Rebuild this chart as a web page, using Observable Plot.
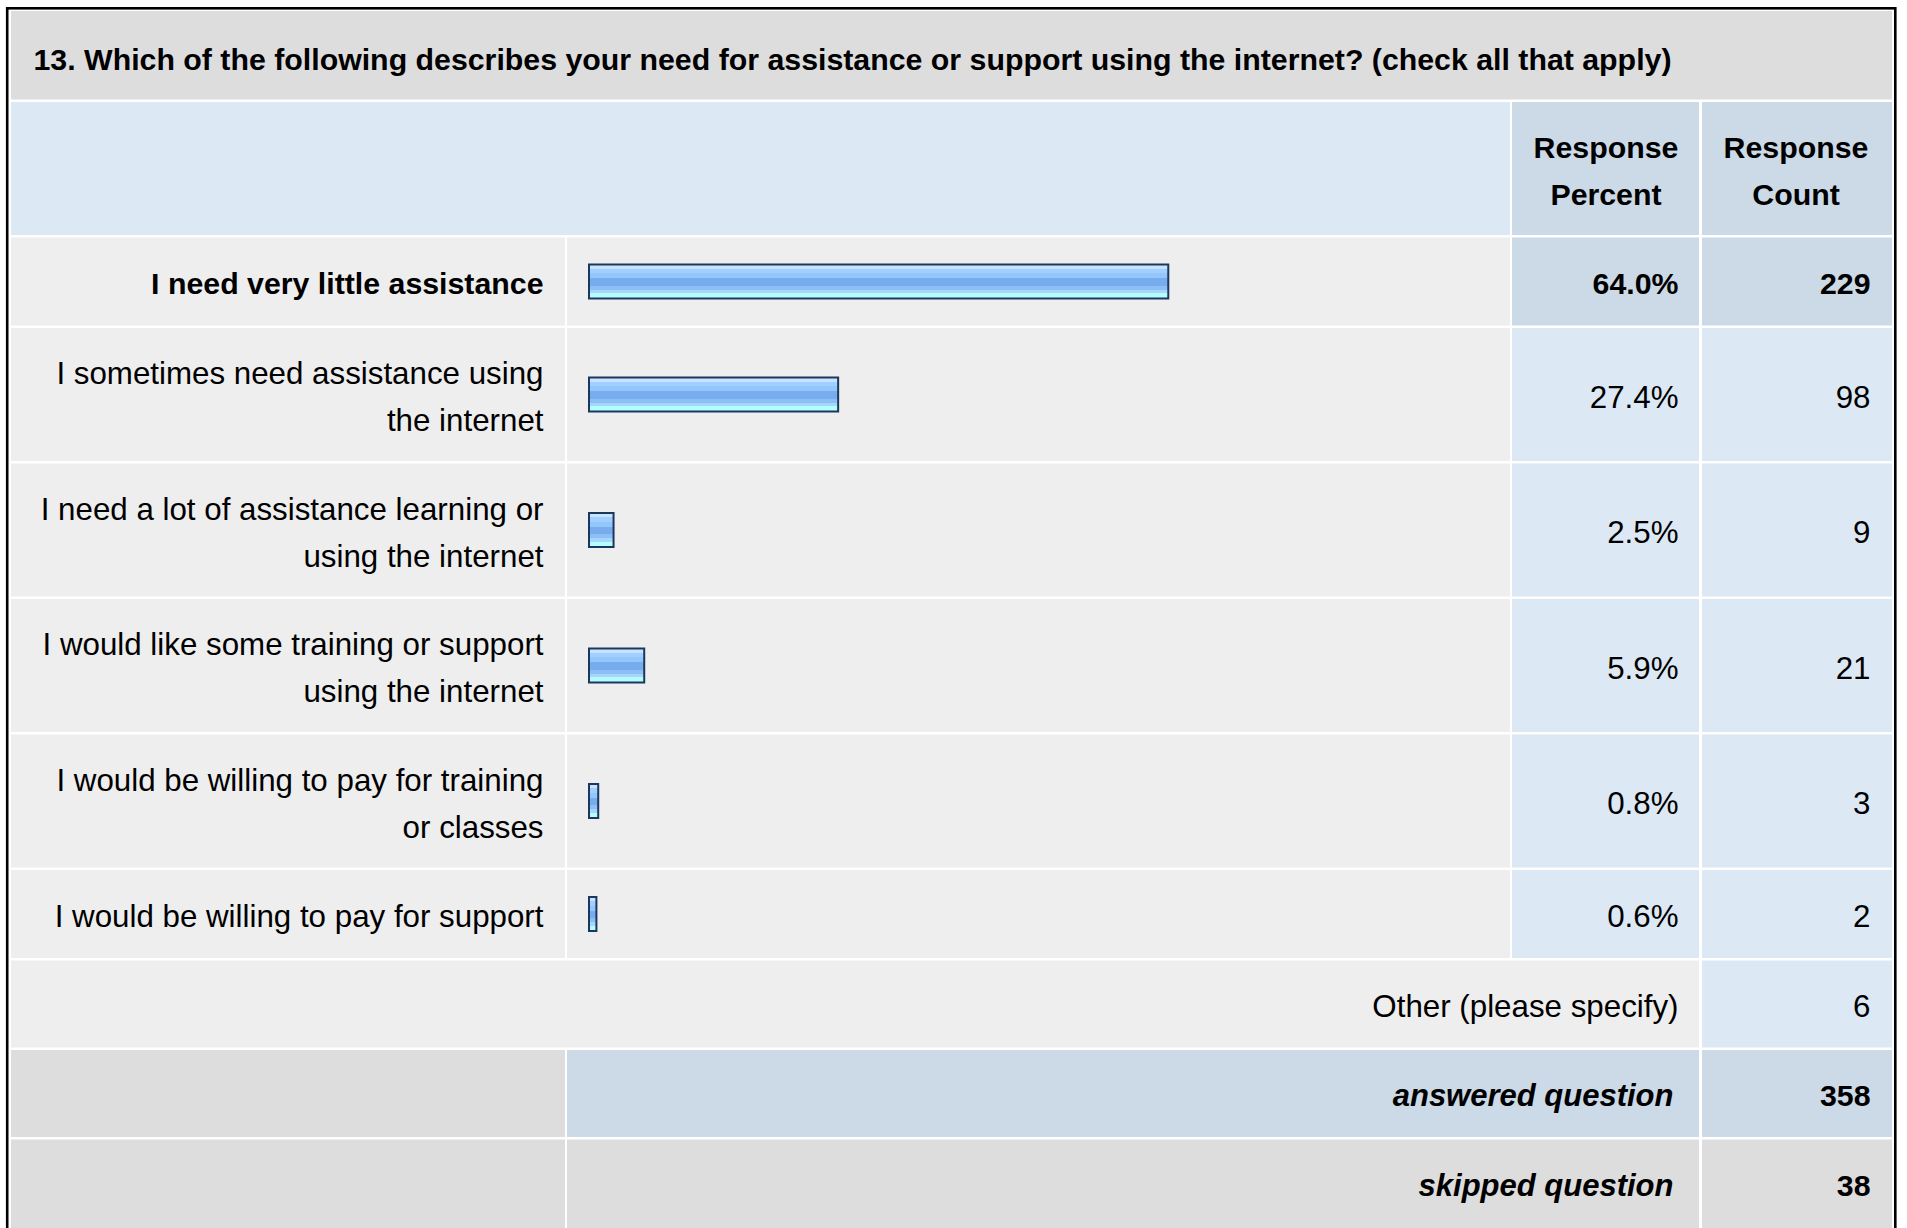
<!DOCTYPE html>
<html>
<head>
<meta charset="utf-8">
<script src="https://cdn.jsdelivr.net/npm/d3@7"></script>
<script src="https://cdn.jsdelivr.net/npm/@observablehq/plot@0.6"></script>
<style>
  html, body { margin: 0; padding: 0; background: #ffffff; }
  #chart svg { display: block; }
</style>
</head>
<body>
<div id="chart"></div>
<script>
// ---------------- data ----------------
const title = "13. Which of the following describes your need for assistance or support using the internet? (check all that apply)";
const headerLabels = ["Response\nPercent", "Response\nCount"];
const answers = [
  "I need very little assistance",
  "I sometimes need assistance using\nthe internet",
  "I need a lot of assistance learning or\nusing the internet",
  "I would like some training or support\nusing the internet",
  "I would be willing to pay for training\nor classes",
  "I would be willing to pay for support"
];
const percents = [64.0, 27.4, 2.5, 5.9, 0.8, 0.6];
const counts = [229, 98, 9, 21, 3, 2];
const otherLabel = "Other (please specify)";
const otherCount = 6;
const summaryLabels = ["answered question", "skipped question"];
const summaryCounts = [358, 38];

// ---------------- layout & style ----------------
const W = 1907, H = 1228;
const FONT = "'Liberation Sans', Arial, Helvetica, sans-serif";
const FS_REG = 31.3, FS_BOLD = 30.3, FS_TITLE = 30.3, FS_SUMMARY = 31;
const COL = {left: 11, labelEnd: 565, barStart: 567, barEnd: 1510, pctStart: 1512, pctEnd: 1699, cntStart: 1702, right: 1892};
const ANCHOR = {label: 543, pct: 1678, cnt: 1870, summary: 1673, title: 33};
const C = {title: "#dddddd", head: "#dde8f5", dark: "#ccd9e6", row: "#eeeeee", stat: "#dde8f5"};
const GAP = 2.5, LINE = 47, ROW1 = 88, EXTRA = 45, CENTER_ADJ = 2.5;

let yc = 11;
const titleBand = {y1: yc, y2: yc + 88.5}; yc = titleBand.y2 + GAP;
const headBand = {y1: yc, y2: yc + 133, c: yc + 66.5}; yc = headBand.y2 + GAP;
const maxPct = d3.max(percents);
const rows = answers.map((label, i) => {
  const n = label.split("\n").length;
  const h = ROW1 + (n - 1) * EXTRA;
  const r = {label, pct: percents[i], count: counts[i], n, y1: yc, y2: yc + h, c: yc + h / 2, top: percents[i] === maxPct};
  yc += h + GAP;
  return r;
});
const otherBand = {y1: yc, y2: yc + 87, c: yc + 43.5}; yc = otherBand.y2 + GAP;
const summary = summaryLabels.map((label, i) => {
  const b = {label, count: summaryCounts[i], i, y1: yc, y2: yc + 87, c: yc + 43.5};
  yc = b.y2 + GAP;
  return b;
});
summary[summary.length - 1].y2 = H + 20;

const lineCenter = (c, i, n) => c + CENTER_ADJ + (i - (n - 1) / 2) * LINE;
const splitLines = (items, getText) => items.flatMap(d => {
  const lines = getText(d).split("\n");
  return lines.map((t, i) => ({...d, t, y: lineCenter(d.c, i, lines.length)}));
});

// cells
const cells = [];
const cell = (x1, x2, b, fill) => cells.push({x1, x2, y1: b.y1, y2: b.y2, fill});
cell(COL.left, COL.right, titleBand, C.title);
cell(COL.left, COL.barEnd, headBand, C.head);
cell(COL.pctStart, COL.pctEnd, headBand, C.dark);
cell(COL.cntStart, COL.right, headBand, C.dark);
rows.forEach(r => {
  cell(COL.left, COL.labelEnd, r, C.row);
  cell(COL.barStart, COL.barEnd, r, C.row);
  cell(COL.pctStart, COL.pctEnd, r, r.top ? C.dark : C.stat);
  cell(COL.cntStart, COL.right, r, r.top ? C.dark : C.stat);
});
cell(COL.left, COL.pctEnd, otherBand, C.row);
cell(COL.cntStart, COL.right, otherBand, C.stat);
summary.forEach(s => {
  cell(COL.left, COL.labelEnd, s, C.title);
  cell(COL.barStart, COL.pctEnd, s, s.i === 0 ? C.dark : C.title);
  cell(COL.cntStart, COL.right, s, s.i === 0 ? C.dark : C.title);
});

function tableChrome() {
  const g = d3.create("svg:g").attr("aria-label", "table");
  const grad = g.append("defs").append("linearGradient")
    .attr("id", "barGradient").attr("x1", 0).attr("y1", 0).attr("x2", 0).attr("y2", 1);
  const stripes = [
    [0.00, "#c8e3fd"], [0.13, "#9fd0ff"], [0.26, "#94c6fb"], [0.41, "#77adef"],
    [0.62, "#8cc0f5"], [0.75, "#a6d6fd"], [0.85, "#b4fdff"], [1.00, null]
  ];
  for (let k = 0; k < stripes.length - 1; k++) {
    grad.append("stop").attr("offset", stripes[k][0]).attr("stop-color", stripes[k][1]);
    grad.append("stop").attr("offset", stripes[k + 1][0]).attr("stop-color", stripes[k][1]);
  }
  g.append("rect").attr("x", 0).attr("y", 0).attr("width", W).attr("height", H).attr("fill", "#ffffff");
  g.selectAll("rect.cell").data(cells).join("rect").attr("class", "cell")
    .attr("x", d => d.x1).attr("y", d => d.y1)
    .attr("width", d => d.x2 - d.x1).attr("height", d => d.y2 - d.y1)
    .attr("fill", d => d.fill);
  g.append("rect").attr("x", 7.2).attr("y", 8.3).attr("width", 1895.3 - 7.2).attr("height", H + 40)
    .attr("fill", "none").attr("stroke", "#000000").attr("stroke-width", 2.6);
  return g.node();
}

const labelLines = splitLines(rows, d => d.label);
const headerLines = headerLabels.map((h, k) => splitLines([{c: headBand.c}], () => h));
const headerCenters = [(COL.pctStart + COL.pctEnd) / 2, 1795.5];

const txt = (data, dx, opts) => Plot.text(data, {
  frameAnchor: "left", dx, y: "y", text: "t", fill: "#000000", ...opts
});

const chart = Plot.plot({
  width: W,
  height: H,
  margin: 0,
  marginTop: 0, marginRight: 0, marginBottom: 0, marginLeft: 0,
  style: {fontFamily: FONT, background: "#ffffff", color: "#000000", overflow: "visible"},
  x: {type: "linear", domain: [0, 100], range: [590, 1492], axis: null},
  y: {type: "identity", axis: null},
  marks: [
    tableChrome,
    // bars
    Plot.rect(rows, {
      x1: 0, x2: "pct",
      y1: d => d.c - 17, y2: d => d.c + 17,
      insetLeft: -1, insetRight: -1,
      fill: "url(#barGradient)", stroke: "#1c375e", strokeWidth: 2
    }),
    // title
    txt([{t: title, y: 69 - 0.32 * FS_TITLE}], ANCHOR.title, {textAnchor: "start", fontSize: FS_TITLE, fontWeight: "bold"}),
    // headers
    ...headerLines.map((lines, k) => txt(lines, headerCenters[k], {textAnchor: "middle", fontSize: FS_BOLD, fontWeight: "bold"})),
    // answer labels
    txt(labelLines.filter(d => !d.top), ANCHOR.label, {textAnchor: "end", fontSize: FS_REG}),
    txt(labelLines.filter(d => d.top), ANCHOR.label, {textAnchor: "end", fontSize: FS_BOLD, fontWeight: "bold"}),
    // percents
    txt(rows.filter(d => !d.top).map(d => ({t: d.pct.toFixed(1) + "%", y: lineCenter(d.c, 0, 1)})), ANCHOR.pct, {textAnchor: "end", fontSize: FS_REG}),
    txt(rows.filter(d => d.top).map(d => ({t: d.pct.toFixed(1) + "%", y: lineCenter(d.c, 0, 1)})), ANCHOR.pct, {textAnchor: "end", fontSize: FS_BOLD, fontWeight: "bold"}),
    // counts
    txt(rows.filter(d => !d.top).map(d => ({t: String(d.count), y: lineCenter(d.c, 0, 1)})), ANCHOR.cnt, {textAnchor: "end", fontSize: FS_REG}),
    txt(rows.filter(d => d.top).map(d => ({t: String(d.count), y: lineCenter(d.c, 0, 1)})), ANCHOR.cnt, {textAnchor: "end", fontSize: FS_BOLD, fontWeight: "bold"}),
    // other
    txt([{t: otherLabel, y: lineCenter(otherBand.c, 0, 1)}], ANCHOR.pct, {textAnchor: "end", fontSize: FS_REG}),
    txt([{t: String(otherCount), y: lineCenter(otherBand.c, 0, 1)}], ANCHOR.cnt, {textAnchor: "end", fontSize: FS_REG}),
    // summary
    txt(summary.map(s => ({t: s.label, y: lineCenter(s.c, 0, 1)})), ANCHOR.summary, {textAnchor: "end", fontSize: FS_SUMMARY, fontWeight: "bold", fontStyle: "italic"}),
    txt(summary.map(s => ({t: String(s.count), y: lineCenter(s.c, 0, 1)})), ANCHOR.cnt, {textAnchor: "end", fontSize: FS_BOLD, fontWeight: "bold"})
  ]
});

document.getElementById("chart").appendChild(chart);
</script>
</body>
</html>
